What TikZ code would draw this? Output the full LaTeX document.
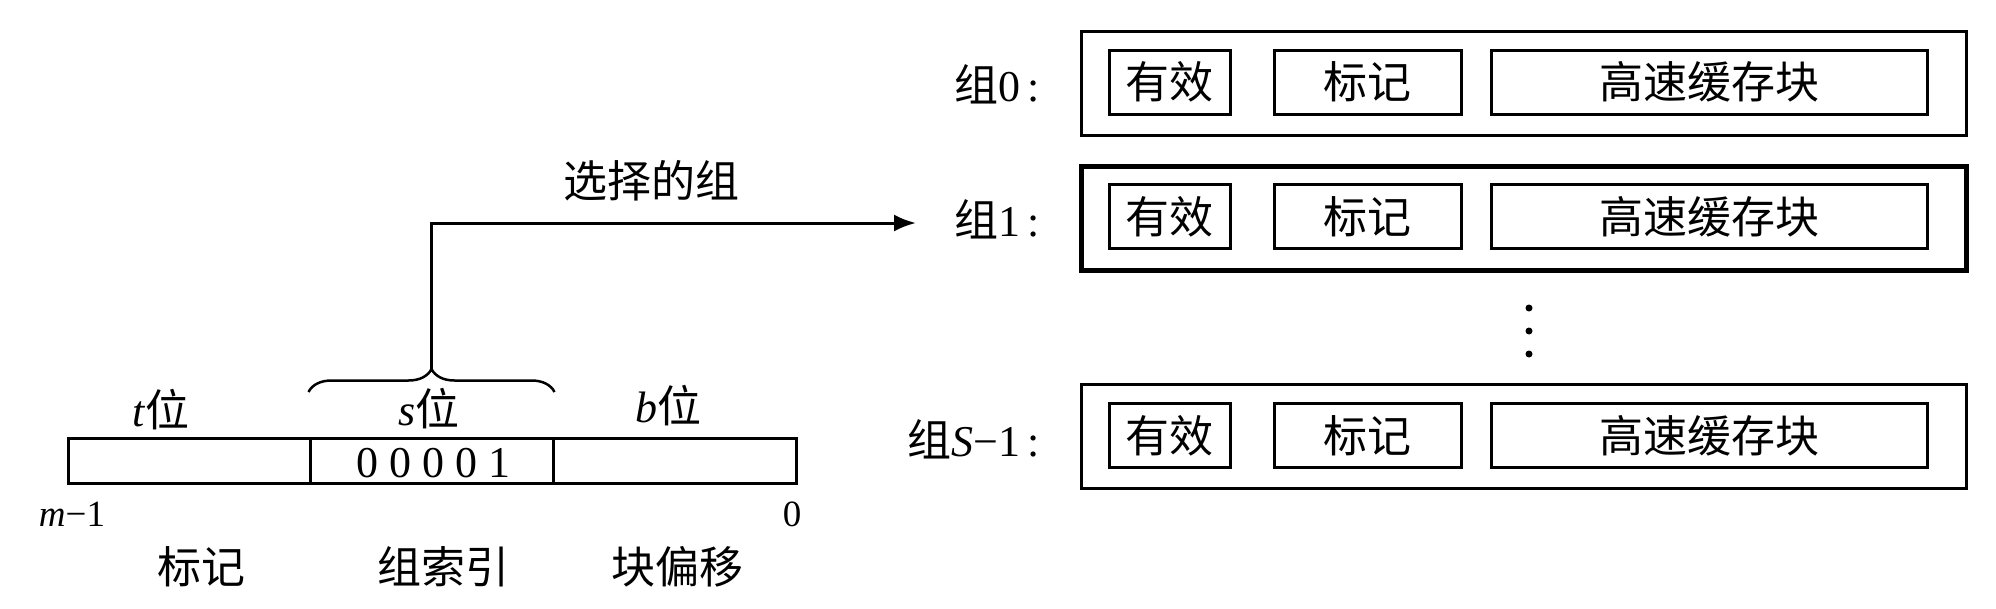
\documentclass[tikz,border=0pt]{standalone}
\usepackage{fontspec}
\setmainfont{Liberation Serif}
\newfontfamily\cjk{Noto Sans CJK SC}
\usetikzlibrary{arrows.meta,decorations.pathreplacing}
\begin{document}
\begin{tikzpicture}[x=1pt,y=-1pt,
  setbox/.style={draw, line width=3pt, minimum width=885pt, minimum height=104pt, inner sep=0pt},
  inbox/.style={draw, line width=3pt, minimum height=64pt, inner sep=0pt, font=\cjk\fontsize{44}{48}\selectfont},
  seg/.style={draw, line width=3pt, minimum height=45pt, inner sep=0pt},
  lbl/.style={inner sep=0pt, font=\fontsize{44}{48}\selectfont},
  cjklbl/.style={inner sep=0pt, font=\cjk\fontsize{44}{48}\selectfont},
  small/.style={inner sep=0pt, font=\fontsize{37}{40}\selectfont},
  conn/.style={line width=3pt, -{Latex[length=22pt,width=17pt]}}
]
\useasboundingbox (0,0) rectangle (1996,608);

% ---- cache sets ----
\node[setbox] (set0) at (1523.5,83.5) {};
\node[setbox, line width=5pt] (set1) at (1523.5,218) {};
\node[setbox] (setS) at (1523.5,436.5) {};

\node[inbox, minimum width=121pt] (v0) at (1169.5,82) {有效};
\node[inbox, minimum width=187pt] (t0) at (1367.5,82) {标记};
\node[inbox, minimum width=436pt] (c0) at (1709,82) {高速缓存块};

\node[inbox, minimum width=121pt] (v1) at (1169.5,216.5) {有效};
\node[inbox, minimum width=187pt] (t1) at (1367.5,216.5) {标记};
\node[inbox, minimum width=436pt] (c1) at (1709,216.5) {高速缓存块};

\node[inbox, minimum width=121pt] (vS) at (1169.5,435.5) {有效};
\node[inbox, minimum width=187pt] (tS) at (1367.5,435.5) {标记};
\node[inbox, minimum width=436pt] (cS) at (1709,435.5) {高速缓存块};

\node[lbl, anchor=east] (lab0) at (1040,84) {{\cjk 组}0\,:};
\node[lbl, anchor=east] (lab1) at (1040,219) {{\cjk 组}1\,:};
\node[lbl, anchor=east] (labS) at (1040,439) {{\cjk 组}{\itshape S}−1\,:};

\foreach \yy in {308,331,354} \fill (1529,\yy) circle[radius=3.5pt];

% ---- address ----
\node[seg, minimum width=242pt] (tseg) at (189,461) {};
\node[seg, minimum width=243pt] (sseg) at (431.5,461) {};
\node[seg, minimum width=243pt] (bseg) at (674.5,461) {};
\node[lbl] (bits) at (433,463) {0 0 0 0 1};

\node[lbl] (tl) at (161,410) {{\itshape t}{\cjk 位}};
\node[lbl] (sl) at (429,409) {{\itshape s}{\cjk 位}};
\node[lbl] (bl) at (668,406) {{\itshape b}{\cjk 位}};

\node[small] (mhi) at (72,514) {{\itshape m}−1};
\node[small] (zlo) at (792,514) {0};

\node[cjklbl] (ftag) at (201,567) {标记};
\node[cjklbl] (fidx) at (443,567) {组索引};
\node[cjklbl] (foff) at (677,567) {块偏移};

% ---- brace and selection arrow ----
\draw[line width=2.5pt, decorate, decoration={brace, amplitude=23pt}]
  ([yshift=45pt]sseg.north west) -- ([yshift=45pt]sseg.north east);
\coordinate (tip) at ([yshift=68pt]sseg.north);
\coordinate (selend) at (916,223);
\draw[conn] (tip) |- (selend);
\node[cjklbl] (sel) at (651,181) {选择的组};
\end{tikzpicture}
\end{document}
